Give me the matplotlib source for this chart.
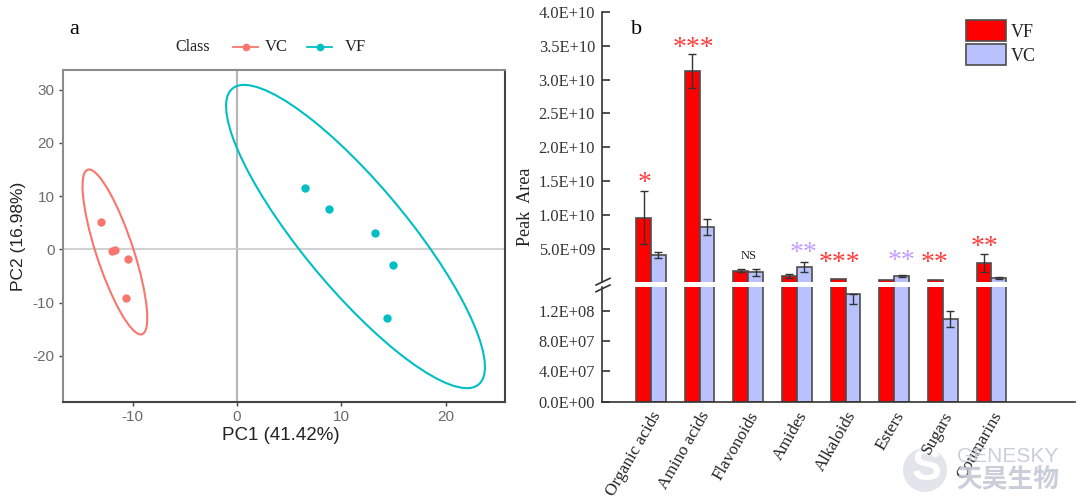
import numpy as np
import matplotlib
matplotlib.use("Agg")
import matplotlib.pyplot as plt
from matplotlib.lines import Line2D
from matplotlib.patches import Ellipse

plt.rcParams["axes.unicode_minus"] = False

W, H = 1080, 501

# panel a
vc_x = [-13.0, -12.0, -11.7, -10.4, -10.6]
vc_y = [5.1, -0.3, -0.1, -1.8, -9.1]
vf_x = [6.5, 8.8, 13.2, 14.9, 14.4]
vf_y = [11.6, 7.5, 3.1, -3.0, -12.9]
# centre x, centre y, half extent x, half extent y, correlation
vc_ellipse = (-11.7, -0.5, 3.1, 15.5, -0.8)
vf_ellipse = (11.35, 2.4, 12.4, 28.5, -0.86)

# panel b
categories = ["Organic acids", "Amino acids", "Flavonoids", "Amides",
              "Alkaloids", "Esters", "Sugars", "Coumarins"]
vf_area = [9.6e9, 3.13e10, 1.75e9, 1.0e9, 4.5e8, 3.0e8, 3.0e8, 2.93e9]
vc_area = [4.07e9, 8.17e9, 1.5e9, 2.3e9, 1.416e8, 9.2e8, 1.095e8, 6.7e8]
vf_err = [3.9e9, 2.55e9, 2.0e8, 3.0e8, 0, 0, 0, 1.33e9]
vc_err = [4.0e8, 1.15e9, 5.5e8, 8.0e8, 0, 1.5e8, 0, 1.5e8]
# the two small VC bars are read on the lower axis
vc_err_low = [0, 0, 0, 0, 1.3e7, 0, 1.05e7, 0]
vc_err_up = [0, 0, 0, 0, 0, 0, 1.05e7, 0]
sig_labels = ["*", "***", "NS", "**", "***", "**", "**", "**"]
sig_x = [-0.14, 0.88, 2.0, 3.13, 3.88, 5.16, 5.84, 6.86]
sig_y = [1.46e10, 3.46e10, 3.9e9, 4.3e9, 2.85e9, 3.1e9, 2.85e9, 5.2e9]
sig_colors = ["#ff3b3b", "#ff3b3b", "#222222", "#c49cff", "#ff3b3b", "#c49cff", "#ff3b3b", "#ff3b3b"]

upper_ticks = [5e9, 1e10, 1.5e10, 2e10, 2.5e10, 3e10, 3.5e10, 4e10]
upper_labels = ["5.0E+09", "1.0E+10", "1.5E+10", "2.0E+10", "2.5E+10", "3.0E+10", "3.5E+10", "4.0E+10"]
lower_ticks = [0, 4e7, 8e7, 1.2e8]
lower_labels = ["0.0E+00", "4.0E+07", "8.0E+07", "1.2E+08"]

SERIF = "Liberation Serif"
SANS = "Liberation Sans"
RED_A = "#f8766d"
TEAL = "#00bfc4"
BREAK = 1.5e8


def fx(x):
    return x / W


def fy(y):
    return 1 - y / H


def axes_px(fig, left, top, right, bottom):
    return fig.add_axes([fx(left), fy(bottom), (right - left) / W, (bottom - top) / H])


def add_ellipse(ax, params, color):
    cx, cy, hx, hy, r = params
    cov = np.array([[hx ** 2, r * hx * hy], [r * hx * hy, hy ** 2]])
    vals, vecs = np.linalg.eigh(cov)
    angle = np.degrees(np.arctan2(vecs[1, 1], vecs[0, 1]))
    ax.add_patch(Ellipse((cx, cy), 2 * np.sqrt(vals[1]), 2 * np.sqrt(vals[0]), angle=angle,
                         fill=False, edgecolor=color, lw=1.5))


def draw_err(ax, x, y, low, up):
    x, y, low, up = map(np.asarray, (x, y, low, up))
    keep = (low > 0) | (up > 0)
    ax.errorbar(x[keep], y[keep], yerr=[low[keep], up[keep]], fmt="none", ecolor="#333333",
                elinewidth=1, capsize=3, capthick=1, zorder=4)


fig = plt.figure(figsize=(W / 100, H / 100), dpi=100)

# watermark logo sits under the labels
fig.add_artist(Ellipse((fx(925), fy(470)), 44 / W, 44 / H, transform=fig.transFigure, color="#e2e5ec", lw=0, zorder=-2))
fig.text(fx(927), fy(468), "S", family=SANS, fontsize=32, weight="bold", color="white", ha="center", va="center", zorder=-1)

# PCA panel
ax = axes_px(fig, 63, 70, 505, 402)
ax.set_xlim(-16.67, 25.67)
ax.set_ylim(-28.7, 33.7)
ax.axvline(0, color="#b5b5b5", lw=1.5, zorder=1)
ax.axhline(0, color="#c8c8c8", lw=1.2, zorder=1)
add_ellipse(ax, vc_ellipse, RED_A)
add_ellipse(ax, vf_ellipse, TEAL)
ax.scatter(vc_x, vc_y, s=36, color=RED_A, zorder=3, linewidths=0)
ax.scatter(vf_x, vf_y, s=36, color=TEAL, zorder=3, linewidths=0)
ax.set_xticks([-10, 0, 10, 20])
ax.set_yticks([-20, -10, 0, 10, 20, 30])
ax.tick_params(length=3, width=1, color="#444444", labelcolor="#6b6b6b", labelsize=11, pad=3)
for lab in ax.get_xticklabels() + ax.get_yticklabels():
    lab.set_family(SANS)
for side, col in [("top", "#8c8c8c"), ("left", "#8c8c8c"), ("right", "#444444"), ("bottom", "#444444")]:
    ax.spines[side].set_color(col)
    ax.spines[side].set_linewidth(1.5)
fig.text(fx(281), fy(436), "PC1 (41.42%)", family=SANS, fontsize=13.5, color="#222222", ha="center", va="center")
fig.text(fx(19), fy(236), "PC2 (16.98%)", family=SANS, fontsize=12.5, color="#222222", ha="center", va="center", rotation=90)
fig.text(fx(74), fy(30), "a", family=SERIF, fontsize=16, ha="center", va="center")
fig.text(fx(637), fy(30), "b", family=SERIF, fontsize=16, ha="center", va="center")

# Class legend above the PCA panel
fig.text(fx(175), fy(47), "Class", family=SERIF, fontsize=11.5, color="#222222", va="center")
for x0, col, name, xt in [(233, RED_A, "VC", 265), (307, TEAL, "VF", 345)]:
    fig.add_artist(Line2D([fx(x0), fx(x0 + 25)], [fy(47), fy(47)], color=col, lw=1.3))
    fig.add_artist(Line2D([fx(x0 + 12.5)], [fy(47)], color=col, marker="o", ms=5.5, mew=0))
    fig.text(fx(xt), fy(47), name, family=SERIF, fontsize=12, color="#222222", va="center")

# broken bar panel
top_ax = axes_px(fig, 602, 12, 1075, 281.5)
low_ax = axes_px(fig, 602, 287, 1075, 401.7)
top_ax.set_ylim(BREAK, 4e10)
low_ax.set_ylim(0, 1.513e8)
pos = np.arange(len(categories))
width = 0.305
# bars that end under the break only exist on the lower axis
vc_top = np.where(np.array(vc_area) < BREAK, np.nan, vc_area)
for a, vc_vals in ((top_ax, vc_top), (low_ax, vc_area)):
    a.patch.set_alpha(0)
    vf_bars = a.bar(pos - width / 2, vf_area, width, color="#ff0000", edgecolor="#4d4d4d", linewidth=1.2, label="VF")
    vc_bars = a.bar(pos + width / 2, vc_vals, width, color="#b9c2ff", edgecolor="#4d4d4d", linewidth=1.2, label="VC")
    a.set_xlim(-1.008, 8.72)
    a.spines["top"].set_visible(False)
    a.spines["right"].set_visible(False)
    a.spines["left"].set_color("#333333")
    a.spines["left"].set_linewidth(1.2)
    a.tick_params(axis="y", direction="in", length=6, width=1.2, color="#333333", labelcolor="#333333", pad=5)
draw_err(top_ax, pos - width / 2, vf_area, vf_err, vf_err)
draw_err(top_ax, pos + width / 2, vc_area, vc_err, vc_err)
draw_err(low_ax, pos + width / 2, vc_area, vc_err_low, vc_err_up)

top_ax.spines["bottom"].set_visible(False)
top_ax.set_xticks([])
top_ax.set_yticks(upper_ticks)
top_ax.set_yticklabels(upper_labels, family=SERIF, fontsize=11.8)
low_ax.spines["bottom"].set_color("#333333")
low_ax.spines["bottom"].set_linewidth(1.2)
low_ax.set_yticks(lower_ticks)
low_ax.set_yticklabels(lower_labels, family=SERIF, fontsize=11.8)
low_ax.set_xticks(pos)
low_ax.set_xticklabels(categories, family=SERIF, fontsize=12.3, color="#222222", rotation=60,
                       ha="right", va="top", rotation_mode="anchor")
low_ax.tick_params(axis="x", length=0, pad=5)

for x, y, lab, col in zip(sig_x, sig_y, sig_labels, sig_colors):
    size = 9 if lab == "NS" else 20
    top_ax.text(x, y, lab, family=SERIF, fontsize=size, color=col, ha="center", va="center")

fig.text(fx(525), fy(207), "Peak  Area", family=SERIF, fontsize=13, color="#222222", rotation=90, ha="center", va="center")

# axis break marks
for y0 in (285, 291.7):
    fig.add_artist(Line2D([fx(596), fx(610)], [fy(y0), fy(y0 - 6.7)], color="#333333", lw=1.2))

fig.legend(handles=[vf_bars, vc_bars], labels=["VF", "VC"], loc="upper left", bbox_to_anchor=(fx(966), fy(20)),
           frameon=False, borderpad=0, borderaxespad=0, labelspacing=0.17, handlelength=2.2, handleheight=1.42,
           handletextpad=0.3, prop={"family": SERIF, "size": 13}, labelcolor="#222222")

# watermark lettering
fig.text(fx(1008), fy(457), "GENESKY", family=SANS, fontsize=15, color="#c4c9d6", ha="center", va="center", alpha=0.9)
fig.text(fx(1008), fy(479), "天昊生物", family="Noto Sans CJK SC", fontsize=18.5, weight="bold", color="#c4c9d6", ha="center", va="center", alpha=0.9)

fig.savefig("out.png", dpi=100)
